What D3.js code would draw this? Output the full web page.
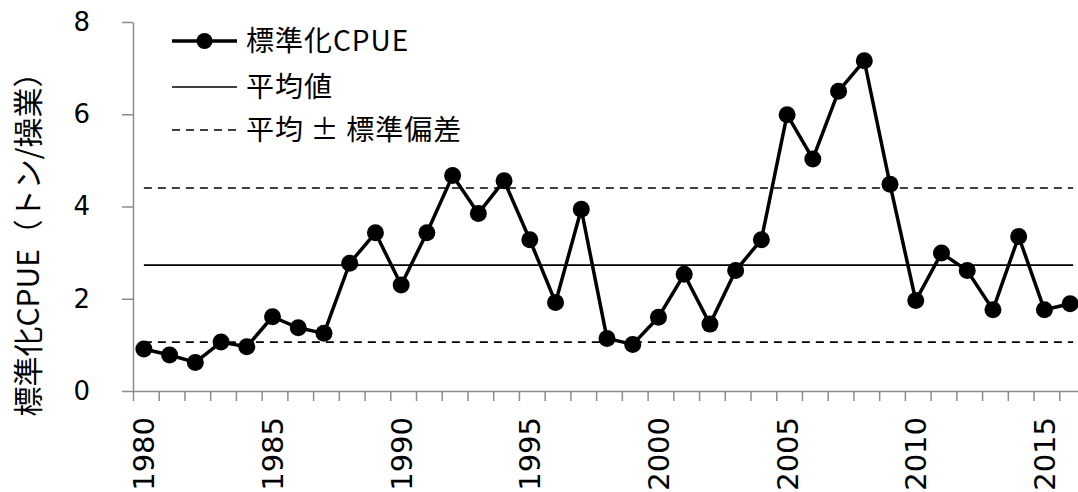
<!DOCTYPE html>
<html>
<head>
<meta charset="utf-8">
<script src="https://cdn.jsdelivr.net/npm/d3@7"></script>
<style>
  body { margin: 0; background: #fff; }
  svg { display: block; font-family: "Noto Sans CJK JP", "Noto Sans", sans-serif; }
</style>
</head>
<body>
<div id="chart"></div>
<script>
/* data */
var years = d3.range(1980, 2017);
var cpue = [0.91, 0.78, 0.62, 1.06, 0.96, 1.61, 1.37, 1.25, 2.77, 3.43,
            2.30, 3.43, 4.67, 3.85, 4.56, 3.28, 1.92, 3.94, 1.14, 1.01,
            1.60, 2.53, 1.45, 2.61, 3.28, 5.99, 5.03, 6.50, 7.16, 4.48,
            1.96, 2.99, 2.61, 1.76, 3.35, 1.76, 1.89];
var meanValue = 2.73;
var sdValue = 1.67;
var yTicks = [0, 2, 4, 6, 8];
var xTickLabels = [1980, 1985, 1990, 1995, 2000, 2005, 2010, 2015];
var legendNames = ["標準化CPUE", "平均値", "平均\u2009±\u2009標準偏差"];

var width = 1078, height = 492;
var plotLeft = 133, plotRight = 1085, plotTop = 22, plotBottom = 391;
var numFont = "'DejaVu Sans', sans-serif";

var svg = d3.select("#chart").append("svg")
  .attr("width", width)
  .attr("height", height);

/* scales */
var x = d3.scaleBand().domain(years).range([plotLeft, plotRight]).padding(0);
var xc = function(yr) { return x(yr) + x.bandwidth() / 2 - 2; };
var xEdge = d3.scaleLinear().domain([0, years.length]).range([plotLeft, plotRight]);
var y = d3.scaleLinear().domain([0, 8]).range([plotBottom, plotTop]);

/* y axis */
var yAxis = svg.append("g")
  .attr("transform", "translate(" + plotLeft + ",0)")
  .call(d3.axisLeft(y).tickValues(yTicks).tickSize(11).tickPadding(32).tickSizeOuter(0));
yAxis.select(".domain").attr("stroke", "#8c8c8c").attr("stroke-width", 1.5);
yAxis.selectAll(".tick line").attr("stroke", "#8c8c8c").attr("stroke-width", 1.5);
yAxis.selectAll(".tick text")
  .style("font-size", "26px").style("font-family", numFont).attr("fill", "#000");

/* x axis: ticks on category edges */
var xAxis = svg.append("g")
  .attr("transform", "translate(0," + plotBottom + ")")
  .call(d3.axisBottom(xEdge).tickValues(d3.range(0, years.length + 1)).tickSize(10)
    .tickFormat("").tickSizeOuter(0));
xAxis.select(".domain").attr("stroke", "#8c8c8c").attr("stroke-width", 1.5);
xAxis.selectAll(".tick line").attr("stroke", "#8c8c8c").attr("stroke-width", 1.5);

svg.append("g").selectAll("text")
  .data(xTickLabels)
  .enter().append("text")
  .attr("transform", function(d) { return "translate(" + xc(d) + ",417) rotate(-90)"; })
  .attr("text-anchor", "end")
  .attr("dy", "0.36em")
  .style("font-size", "29px")
  .style("font-family", numFont)
  .text(function(d) { return d; });

/* y title */
svg.append("text")
  .attr("transform", "translate(28,237) rotate(-90)")
  .attr("text-anchor", "middle")
  .attr("dy", "0.35em")
  .style("font-size", "30px")
  .text("標準化CPUE（トン/操業）");

/* reference lines */
var x0 = xc(years[0]), x1 = xc(years[years.length - 1]) + 3;
svg.append("line")
  .attr("x1", x0).attr("x2", x1)
  .attr("y1", y(meanValue)).attr("y2", y(meanValue))
  .attr("stroke", "#000").attr("stroke-width", 1.6);
[meanValue + sdValue, meanValue - sdValue].forEach(function(v) {
  svg.append("line")
    .attr("x1", x0).attr("x2", x1)
    .attr("y1", y(v)).attr("y2", y(v))
    .attr("stroke", "#000").attr("stroke-width", 1.6)
    .attr("stroke-dasharray", "8,6");
});

/* series */
var line = d3.line()
  .x(function(d, i) { return xc(years[i]); })
  .y(function(d) { return y(d); });

svg.append("path")
  .datum(cpue)
  .attr("fill", "none")
  .attr("stroke", "#000")
  .attr("stroke-width", 3.5)
  .attr("stroke-linejoin", "round")
  .attr("d", line);

svg.append("g").selectAll("circle")
  .data(cpue)
  .enter().append("circle")
  .attr("cx", function(d, i) { return xc(years[i]); })
  .attr("cy", function(d) { return y(d); })
  .attr("r", 8.5)
  .attr("fill", "#000");

/* legend */
var legendY = [41, 87, 130];
var lg = svg.append("g");
legendNames.forEach(function(name, i) {
  var row = lg.append("g").attr("transform", "translate(0," + legendY[i] + ")");
  var ln = row.append("line")
    .attr("x1", 172).attr("x2", 237)
    .attr("stroke", "#000");
  if (i === 0) {
    ln.attr("stroke-width", 3.5);
    row.append("circle").attr("cx", 204.5).attr("r", 8).attr("fill", "#000");
  } else if (i === 1) {
    ln.attr("stroke-width", 1.6);
  } else {
    ln.attr("stroke-width", 1.6).attr("stroke-dasharray", "8,6");
  }
  row.append("text")
    .attr("x", 246)
    .attr("dy", "0.35em")
    .style("font-size", "28px")
    .style("letter-spacing", "1px")
    .text(name);
});
</script>
</body>
</html>
